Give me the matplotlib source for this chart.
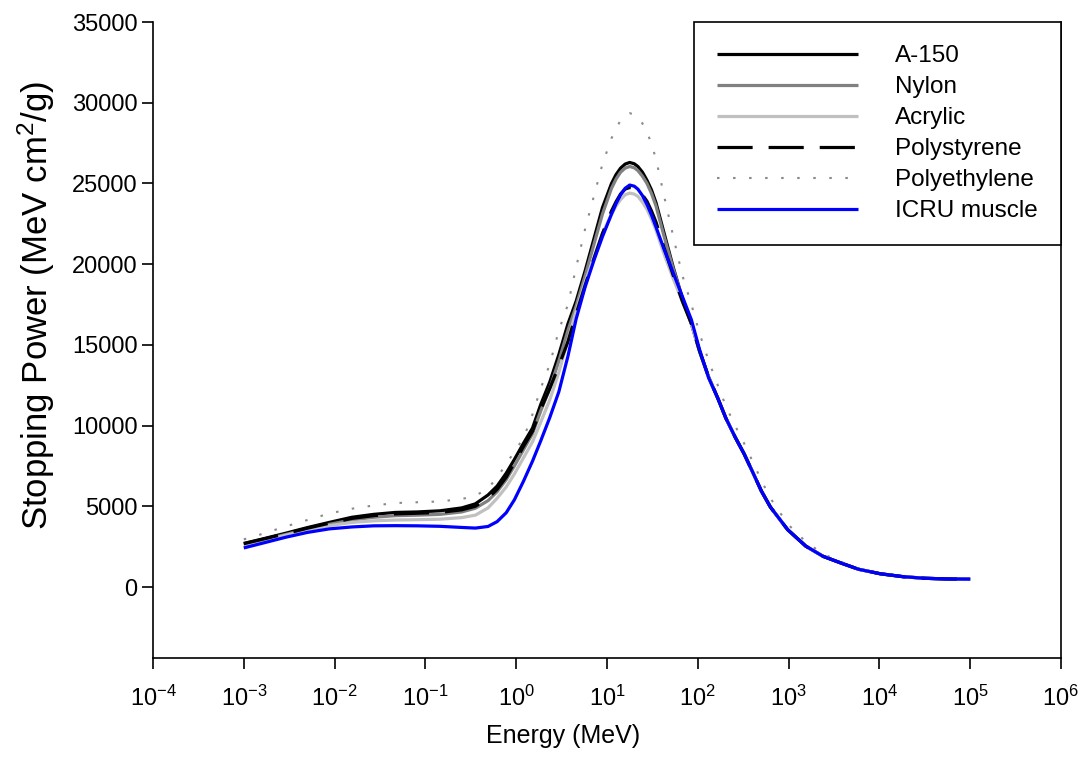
import numpy as np
import matplotlib
matplotlib.use("Agg")
import matplotlib.pyplot as plt

plt.rcParams['font.family'] = ['Liberation Sans', 'DejaVu Sans']
plt.rcParams['mathtext.fontset'] = 'custom'
plt.rcParams['mathtext.rm'] = 'Liberation Sans'
plt.rcParams['mathtext.it'] = 'Liberation Sans'
plt.rcParams['mathtext.bf'] = 'Liberation Sans'
plt.rcParams['axes.unicode_minus'] = False

# log10 of energy (MeV), shared by all materials
log_energy = [-3.0, -2.79, -2.54, -2.30, -2.06, -1.81, -1.57, -1.33, -1.09, -0.84,
              -0.60, -0.45, -0.31, -0.21, -0.11, -0.02, 0.08, 0.18, 0.27, 0.37,
              0.47, 0.57, 0.66, 0.76, 0.86, 0.95, 1.05, 1.10, 1.15, 1.20,
              1.25, 1.30, 1.34, 1.39, 1.44, 1.49, 1.54, 1.63, 1.73, 1.83,
              1.93, 2.02, 2.12, 2.22, 2.31, 2.41, 2.51, 2.61, 2.70, 2.80,
              2.99, 3.19, 3.38, 3.58, 3.77, 4.01, 4.26, 4.50, 4.74, 5.0]

a150 = [2700, 2980, 3330, 3680, 4000, 4320, 4500, 4620, 4650, 4720,
        4900, 5150, 5700, 6250, 7050, 7900, 8900, 9850, 11300, 12700,
        14400, 16300, 17700, 19600, 21650, 23500, 25000, 25550, 25950, 26200,
        26300, 26220, 26050, 25700, 25200, 24600, 23800, 21900, 19800, 17900,
        16300, 14600, 13000, 11700, 10450, 9300, 8250, 7050, 5950, 4950,
        3550, 2530, 1900, 1480, 1100, 820, 640, 540, 500, 490]

nylon = [2650, 2920, 3250, 3580, 3880, 4150, 4320, 4420, 4450, 4500,
         4650, 4880, 5350, 5900, 6650, 7500, 8500, 9500, 10900, 12300,
         14000, 15900, 17400, 19300, 21300, 23100, 24700, 25270, 25700, 25950,
         26050, 25970, 25800, 25450, 25000, 24380, 23600, 21700, 19700, 17900,
         16300, 14600, 13000, 11700, 10450, 9300, 8250, 7050, 5950, 4950,
         3550, 2530, 1900, 1480, 1100, 820, 640, 540, 500, 490]

acrylic = [2550, 2850, 3200, 3520, 3800, 4000, 4100, 4150, 4170, 4200,
           4300, 4450, 4900, 5500, 6200, 7000, 8000, 9000, 10200, 11600,
           13300, 15300, 17100, 18900, 20500, 21900, 23100, 23600, 24000, 24300,
           24400, 24340, 24200, 23850, 23400, 22800, 22100, 20600, 19100, 17700,
           16300, 14600, 12950, 11700, 10450, 9300, 8250, 7050, 5950, 4950,
           3550, 2530, 1900, 1480, 1100, 820, 640, 540, 500, 490]

polystyrene = [2680, 2960, 3300, 3640, 3950, 4250, 4420, 4530, 4570, 4620,
               4780, 5000, 5500, 6050, 6800, 7700, 8700, 9650, 11000, 12300,
               13700, 15200, 16900, 18700, 20400, 21900, 23300, 23870, 24350, 24650,
               24750, 24710, 24600, 24300, 23900, 23300, 22600, 21000, 19300, 17700,
               16300, 14600, 13000, 11700, 10450, 9300, 8250, 7050, 5950, 4950,
               3550, 2530, 1900, 1480, 1100, 820, 640, 540, 500, 490]

polyethylene = [2950, 3300, 3750, 4150, 4550, 4850, 5050, 5200, 5250, 5300,
                5450, 5650, 6100, 6800, 7600, 8400, 9200, 10700, 12300, 13800,
                15900, 17500, 19800, 22200, 24300, 26200, 27800, 28420, 28900, 29230,
                29350, 29280, 29100, 28720, 28200, 27450, 26500, 24200, 21700, 19300,
                17500, 15700, 14000, 12500, 11200, 10000, 8900, 7700, 6600, 5500,
                3900, 2800, 2050, 1550, 1150, 850, 660, 560, 510, 500]

icru_muscle = [2420, 2720, 3080, 3380, 3600, 3720, 3790, 3800, 3790, 3760,
               3690, 3650, 3750, 4050, 4600, 5400, 6550, 7800, 9050, 10500,
               12100, 14300, 16600, 18600, 20300, 21700, 23100, 23750, 24300, 24700,
               24900, 24830, 24650, 24250, 23700, 23050, 22300, 20900, 19450, 18000,
               16550, 14700, 12950, 11700, 10450, 9300, 8250, 7050, 5950, 4950,
               3550, 2530, 1900, 1480, 1100, 820, 640, 540, 500, 490]

energy = np.power(10.0, log_energy)

fig = plt.figure(figsize=(10.92, 7.78), dpi=100)
ax = fig.add_axes([0.1401, 0.1542, 0.9716 - 0.1401, 0.9717 - 0.1542])

lw = 2.3
kw = dict(solid_joinstyle='round', solid_capstyle='butt')
ax.plot(energy, a150, color='black', lw=lw, label='A-150', **kw)
ax.plot(energy, nylon, color='#808080', lw=lw, label='Nylon', **kw)
ax.plot(energy, acrylic, color='#c0c0c0', lw=lw, label='Acrylic', **kw)
ax.plot(energy, polystyrene, color='black', lw=lw, dashes=(11, 5), label='Polystyrene')
ax.plot(energy, polyethylene, color='#8a8a8a', lw=1.5, dashes=(1.2, 6.5), label='Polyethylene')
ax.plot(energy, icru_muscle, color='#0000ff', lw=lw, label='ICRU muscle', **kw)

ax.set_xscale('log')
ax.set_xlim(1e-4, 1e6)
ax.set_ylim(-4400, 35000)
ax.set_xticks([10.0 ** k for k in range(-4, 7)])
ax.xaxis.set_minor_locator(matplotlib.ticker.NullLocator())
ax.set_yticks(range(0, 35001, 5000))

ax.spines['top'].set_visible(False)
for s in ax.spines.values():
    s.set_linewidth(1.2)

ax.tick_params(axis='both', direction='out', length=8, width=1.2, labelsize=17)
ax.tick_params(axis='x', pad=12)
ax.tick_params(axis='y', pad=3)

ax.set_xlabel('Energy (MeV)', fontsize=18)
ax.xaxis.set_label_coords(0.4515, -0.103)
ax.set_ylabel('Stopping Power (MeV cm$^2$/g)', fontsize=25)
ax.yaxis.set_label_coords(-0.106, 0.555)

leg = ax.legend(loc='upper right', bbox_to_anchor=(1.0, 1.0), borderaxespad=0,
                fontsize=17.5, handlelength=5.8, handletextpad=1.52,
                labelspacing=0.37, borderpad=0.95, fancybox=False, framealpha=1)
leg.get_frame().set_edgecolor('black')
leg.get_frame().set_linewidth(1.2)

fig.savefig('out.png', dpi=100)
